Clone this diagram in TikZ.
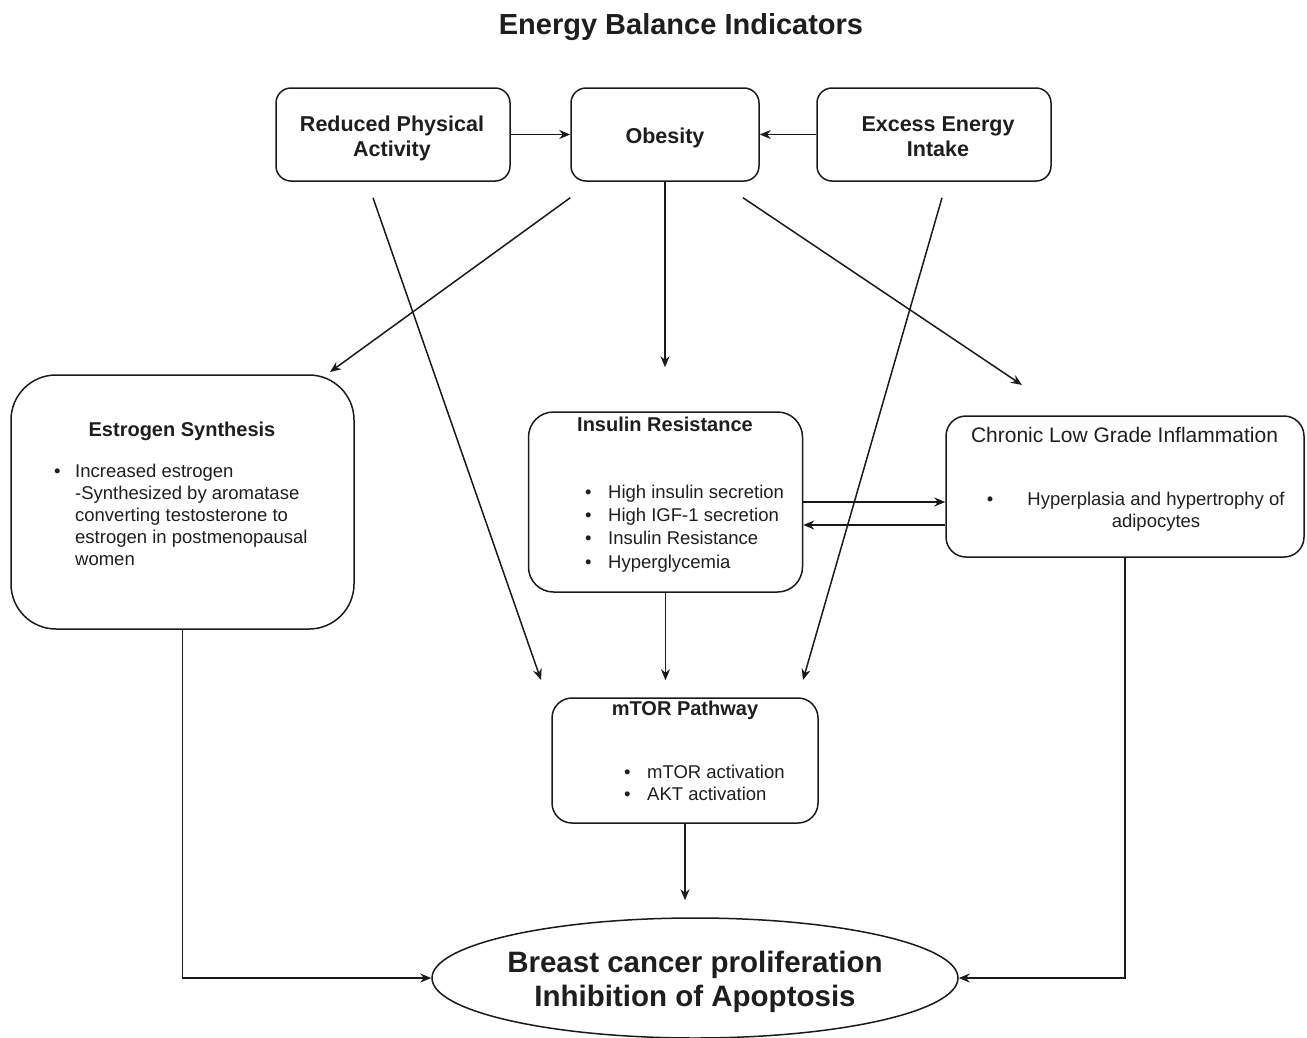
\documentclass[tikz,border=0pt]{standalone}
\usepackage{fontspec}
\setmainfont{Liberation Sans}
\usetikzlibrary{arrows.meta,shapes.geometric}
\definecolor{linec}{HTML}{1A1A1A}
\definecolor{txtc}{HTML}{1E1E1E}
\newcommand\fsz[2]{\fontsize{#1}{#2}\selectfont}
\begin{document}
\begin{tikzpicture}[x=1pt,y=-1pt,
 rbox/.style={draw=linec, line width=1.5pt, rounded corners=#1, inner sep=0pt},
 rbox/.default=15pt,
 arr/.style={draw=linec, line width=1.5pt, -{Stealth[length=11pt,width=9pt]}},
 txt/.style={text=txtc, inner sep=0pt},
 ttl/.style={txt, font=\bfseries\fsz{29}{34}},
 hd/.style={txt, font=\bfseries\fsz{21.5}{25}},
 sub/.style={txt, font=\bfseries\fsz{20}{24}},
 subr/.style={txt, font=\fsz{21}{24}},
 bodyA/.style={txt, font=\fsz{18.5}{22}},
 bodyB/.style={txt, font=\fsz{18.5}{23.3}},
 big/.style={txt, font=\bfseries\fsz{29.5}{34}},
]
\useasboundingbox (0,0) rectangle (1307,1037);

% boxes
\node[rbox=15pt, minimum width=234pt, minimum height=93pt] (rpa) at (393,134.5) {};
\node[rbox=15pt, minimum width=188pt, minimum height=93pt] (ob) at (665,134.5) {};
\node[rbox=15pt, minimum width=234pt, minimum height=93pt] (eei) at (934,134.5) {};
\node[rbox=45pt, minimum width=343pt, minimum height=254pt] (es) at (182.5,502) {};
\node[rbox=25pt, minimum width=274pt, minimum height=180pt] (ir) at (665.5,502) {};
\node[rbox=20pt, minimum width=358pt, minimum height=141pt] (cl) at (1125,486.5) {};
\node[rbox=20pt, minimum width=266pt, minimum height=125pt] (mt) at (685,760.5) {};
\node[draw=linec, line width=1.5pt, ellipse, minimum width=526pt, minimum height=120pt, inner sep=0pt] (bc) at (695,978) {};

% texts
\node[ttl, anchor=base] (title) at (681,34.5) {Energy Balance Indicators};
\node[hd, anchor=north] (rpat) at (392,113.5) {\begin{tabular}{@{}c@{}}Reduced Physical\\Activity\end{tabular}};
\node[hd, anchor=base] (obt) at (665,143) {Obesity};
\node[hd, anchor=north] (eeit) at (938,113.5) {\begin{tabular}{@{}c@{}}Excess Energy\\Intake\end{tabular}};

\node[sub, anchor=base] (est) at (182,436) {Estrogen Synthesis};
\node[bodyA, anchor=north west] (esb) at (53.8,461.6) {\begin{tabular}{@{}l@{\hspace{14.7pt}}l@{}}
\textbullet & Increased estrogen\\
 & -Synthesized by aromatase\\
 & converting testosterone to\\
 & estrogen in postmenopausal\\
 & women\end{tabular}};

\node[sub, anchor=base] (irt) at (665,431) {Insulin Resistance};
\node[bodyB, anchor=north west] (irb) at (584.8,481.7) {\begin{tabular}{@{}l@{\hspace{16.7pt}}l@{}}
\textbullet & High insulin secretion\\
\textbullet & High IGF-1 secretion\\
\textbullet & Insulin Resistance\\
\textbullet & Hyperglycemia\end{tabular}};

\node[subr, anchor=base] (clt) at (1124.5,442) {Chronic Low Grade Inflammation};
\node[bodyA, anchor=base] (clbul) at (990,505) {\textbullet};
\node[bodyA, anchor=north] (clb) at (1156,489.6) {\begin{tabular}{@{}c@{}}Hyperplasia and hypertrophy of\\adipocytes\end{tabular}};

\node[sub, anchor=base] (mtt) at (685,715) {mTOR Pathway};
\node[bodyA, anchor=north west] (mtb) at (623.8,762.6) {\begin{tabular}{@{}l@{\hspace{16.7pt}}l@{}}
\textbullet & mTOR activation\\
\textbullet & AKT activation\end{tabular}};

\node[big, anchor=north] (bct) at (695,948.7) {\begin{tabular}{@{}c@{}}Breast cancer proliferation\\Inhibition of Apoptosis\end{tabular}};

% free arrow ends
\coordinate (e1) at (330,372);
\coordinate (e2) at (1022,385);
\coordinate (e3) at (541,680);
\coordinate (e4) at (803,680);
\coordinate (r2) at (0,525);

% connectors
\draw[arr] (rpa.east) -- (ob.west);
\draw[arr] (eei.west) -- (ob.east);
\draw[arr] ([yshift=-16pt]ob.south west) -- (e1);
\draw[arr, shorten >=44pt] (ob.south) -- (ob.south |- ir.north);
\draw[arr] ([xshift=78pt,yshift=-16pt]ob.south) -- (e2);
\draw[arr] ([xshift=-20pt,yshift=-16pt]rpa.south) -- (e3);
\draw[arr] ([xshift=8pt,yshift=-16pt]eei.south) -- (e4);
\draw[arr, shorten >=17pt] (ir.south) -- (ir.south |- mt.north);
\draw[arr] (ir.east) -- (ir.east -| cl.west);
\draw[arr] (cl.west |- r2) -- (ir.east |- r2);
\draw[arr, shorten >=17pt] (mt.south) -- (mt.south |- bc.north);
\draw[arr] (es.south) |- (bc.west);
\draw[arr] (cl.south) |- (bc.east);
\end{tikzpicture}
\end{document}
